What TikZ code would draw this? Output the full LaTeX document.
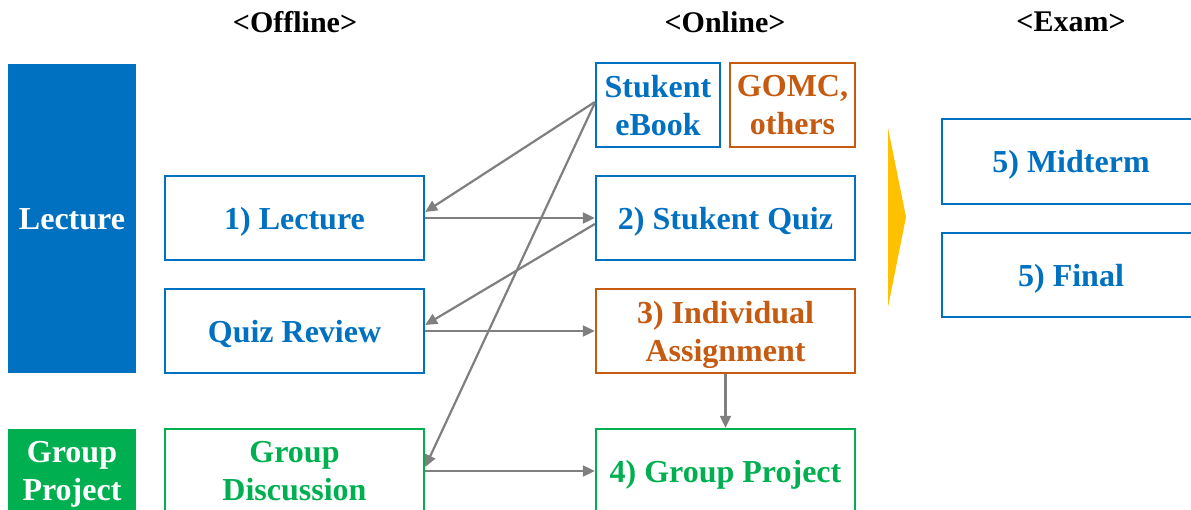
\documentclass[tikz,border=0pt]{standalone}
\usepackage{fontspec}
\setmainfont{Liberation Serif}
\usetikzlibrary{arrows.meta}
\definecolor{cblue}{HTML}{0070C0}
\definecolor{corange}{HTML}{C55A11}
\definecolor{cgreen}{HTML}{00B050}
\definecolor{cgray}{HTML}{7F7F7F}
\definecolor{cgold}{HTML}{FFC000}
\tikzset{
  box/.style={draw, line width=2.4pt, fill=white, minimum width=259pt,
    minimum height=84pt, inner sep=0pt, align=center, text depth=0pt,
    font=\fontsize{32}{38}\selectfont\bfseries},
  bluebox/.style={box, draw=cblue, text=cblue},
  orangebox/.style={box, draw=corange, text=corange},
  greenbox/.style={box, draw=cgreen, text=cgreen},
  bar/.style={minimum width=128pt, inner sep=0pt, align=center, text=white,
    text depth=0pt, font=\fontsize{32}{38}\selectfont\bfseries},
  head/.style={font=\fontsize{30}{36}\selectfont\bfseries, text=black},
  link/.style={draw=cgray, line width=2.2pt, -{Triangle[length=12pt,width=11pt]}}
}
\begin{document}
\begin{tikzpicture}[x=1pt,y=-1pt]
\useasboundingbox (0,0) rectangle (1191,510);
\clip (0,0) rectangle (1191,510);

% column headings
\node[head] (hoff) at (295,22) {<Offline>};
\node[head] (hon)  at (725,22) {<Online>};
\node[head] (hex)  at (1071,22) {<Exam>};

% category bars
\node[bar, fill=cblue, minimum height=309pt] (lecbar) at (72,219) {Lecture};
\node[bar, fill=cgreen, minimum height=84pt] (gpbar) at (72,471) {Group\\Project};

% offline activities
\node[bluebox]  (lec)   at (294.5,218) {1) Lecture};
\node[bluebox]  (qrev)  at (294.5,331) {Quiz Review};
\node[greenbox] (gdisc) at (294.5,471) {Group\\Discussion};

% online activities
\node[bluebox, minimum width=124pt]   (ebook) at (658,105)   {Stukent\\eBook};
\node[orangebox, minimum width=125pt] (gomc)  at (792.5,105) {GOMC,\\others};
\node[bluebox]   (squiz) at (725.5,218) {2) Stukent Quiz};
\node[orangebox] (indiv) at (725.5,331) {3) Individual\\Assignment};
\node[greenbox]  (gproj) at (725.5,471) {4) Group Project};

% exams
\node[bluebox, minimum width=258pt, minimum height=85pt] (mid) at (1071,161.5) {5) Midterm};
\node[bluebox, minimum width=258pt] (fin) at (1071,275) {5) Final};

% divider pointing towards the exams
\fill[cgold] (888,128) -- (906,217) -- (888,307) -- cycle;

% flow between activities
\draw[link] ([yshift=3pt]ebook.west) -- ([yshift=6pt]lec.east);
\draw[link] ([yshift=2pt]ebook.west) -- ([yshift=4pt]gdisc.east);
\draw[link] (lec.east) -- (squiz.west);
\draw[link] ([yshift=-6pt]squiz.west) -- ([yshift=6pt]qrev.east);
\draw[link] (qrev.east) -- (indiv.west);
\draw[link] (gdisc.east) -- (gproj.west);
\draw[link] (indiv.south) -- (gproj.north);
\end{tikzpicture}
\end{document}
